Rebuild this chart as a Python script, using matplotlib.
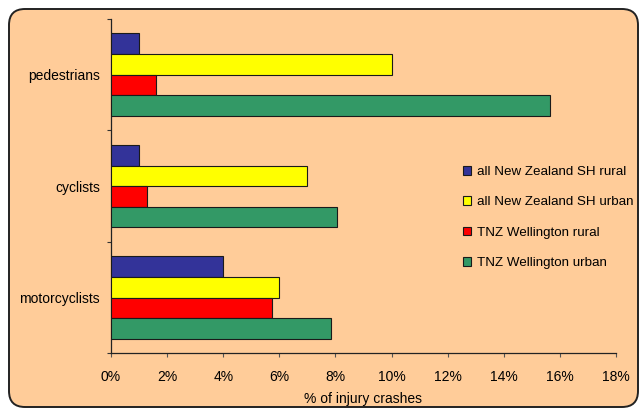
import matplotlib
matplotlib.use('Agg')
import matplotlib.pyplot as plt
import numpy as np
from matplotlib.patches import FancyBboxPatch, Patch
from matplotlib.ticker import FixedLocator, PercentFormatter

BG_COLOR = '#FFCC99'

categories = ['pedestrians', 'cyclists', 'motorcyclists']
series_names = ['all New Zealand SH rural', 'all New Zealand SH urban',
                'TNZ Wellington rural', 'TNZ Wellington urban']
series_colors = ['#333399', '#FFFF00', '#FF0000', '#339966']

# % of injury crashes, per category (pedestrians, cyclists, motorcyclists)
nz_rural = [1.0, 1.0, 4.0]
nz_urban = [10.0, 7.0, 6.0]
wel_rural = [1.6, 1.3, 5.75]
wel_urban = [15.65, 8.05, 7.85]
x_ticks = [0, 2, 4, 6, 8, 10, 12, 14, 16, 18]

plt.rcParams['font.family'] = ['Liberation Sans', 'DejaVu Sans']
plt.rcParams['font.size'] = 10

fig = plt.figure(figsize=(6.4, 4.09), dpi=100)
fig.patch.set_facecolor('white')

# rounded peach frame behind everything
frame = FancyBboxPatch((9 / 640, 2 / 409), 629 / 640, 398 / 409,
                       boxstyle='round,pad=0,rounding_size=0.025',
                       transform=fig.transFigure, facecolor=BG_COLOR,
                       edgecolor='#222222', linewidth=1.4, zorder=0,
                       mutation_aspect=640 / 409)
fig.patches.append(frame)

ax = fig.add_axes([111 / 640, 1 - 353.3 / 409, 505 / 640, (353.3 - 19) / 409])
ax.set_facecolor('none')
ax.set_zorder(2)

y_pos = np.arange(len(categories))[::-1]
bar_h = 0.185
all_series = [nz_rural, nz_urban, wel_rural, wel_urban]
for i, (vals, color) in enumerate(zip(all_series, series_colors)):
    offset = (1.5 - i) * bar_h
    ax.barh(y_pos + offset, vals, height=bar_h, color=color,
            edgecolor='#1a1a1a', linewidth=0.8, zorder=3)

ax.set_xlim(0, 18)
ax.set_ylim(-0.5, 2.5)
ax.xaxis.set_major_locator(FixedLocator(x_ticks))
ax.xaxis.set_major_formatter(PercentFormatter(decimals=0))

ax.set_yticks(y_pos, categories)
ax.set_yticks([-0.5, 0.5, 1.5, 2.5], minor=True)
ax.tick_params(axis='y', which='major', length=0, pad=8)
ax.tick_params(axis='y', which='minor', length=3, width=0.8, color='#333333')
ax.tick_params(axis='x', length=3, width=0.8, color='#555555', pad=9)

for side in ['top', 'right']:
    ax.spines[side].set_visible(False)
for side in ['left', 'bottom']:
    ax.spines[side].set_color('#222222')
    ax.spines[side].set_linewidth(0.9)

ax.set_xlabel('% of injury crashes', labelpad=6)

handles = [Patch(facecolor=c, edgecolor='#1a1a1a', linewidth=0.8) for c in series_colors]
leg = fig.legend(handles, series_names, loc='upper left',
                 bbox_to_anchor=(463 / 640, 1 - 166 / 409), frameon=False,
                 handlelength=0.62, handleheight=0.62, handletextpad=0.4,
                 labelspacing=1.38, borderpad=0, borderaxespad=0, fontsize=9.6)
leg.set_zorder(3)

fig.savefig('out.png', dpi=100)
